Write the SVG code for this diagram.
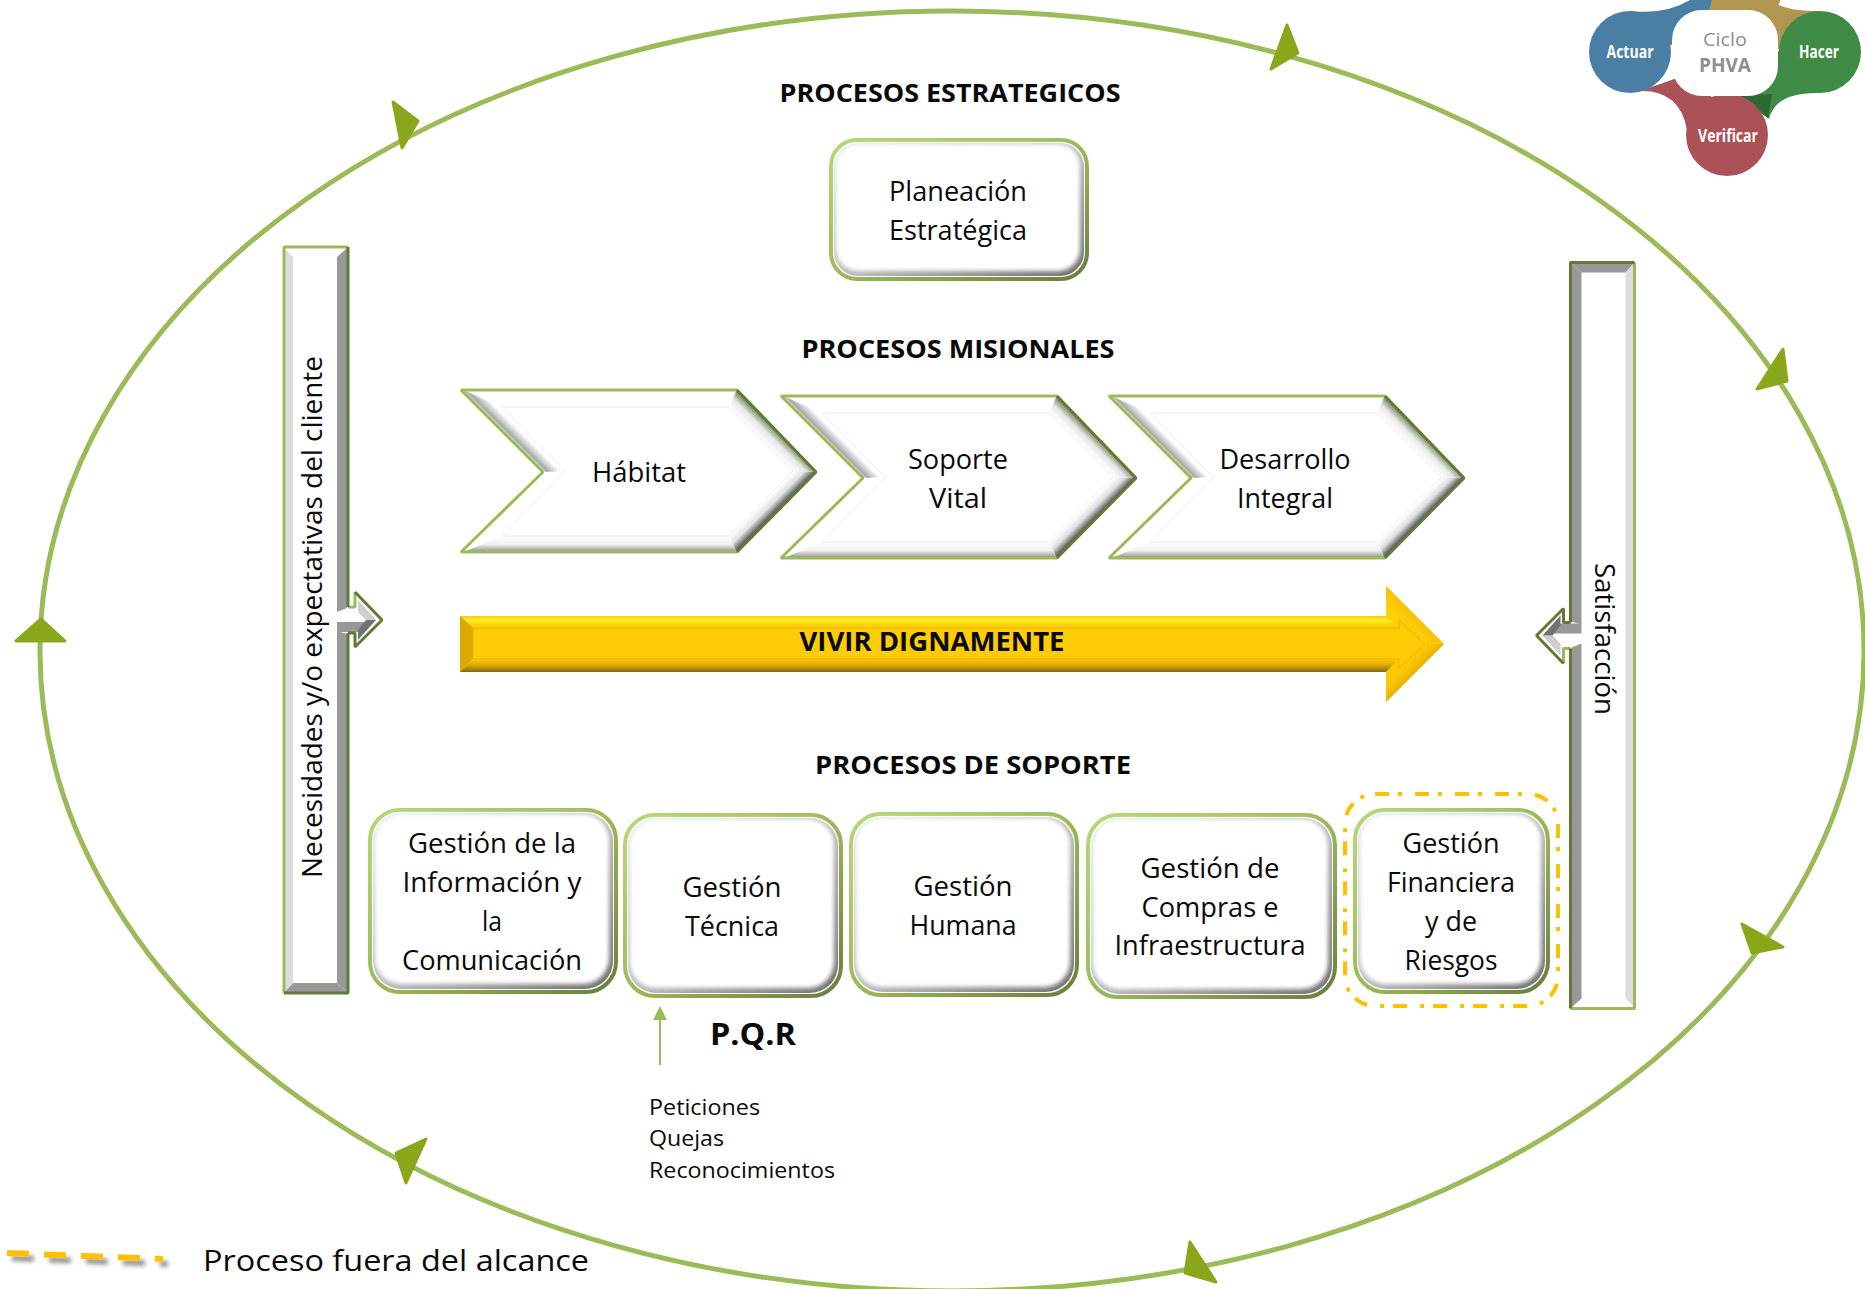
<svg xmlns="http://www.w3.org/2000/svg" xmlns:xlink="http://www.w3.org/1999/xlink" width="1865" height="1289" viewBox="0 0 1865 1289">
<style>
text{font-family:"Open Sans","Noto Sans","Liberation Sans",sans-serif;fill:#0a0a0a;font-size:27px;text-anchor:middle}
.h{font-weight:700;font-size:25px}
.p{font-size:22px;text-anchor:start}
.w{fill:#fff;font-weight:700;font-size:17px}
.box{stroke:url(#gBox);stroke-width:4;fill:#fff}
.bev{fill:url(#gBev)}
.face{fill:#fff;filter:url(#soft)}
.tri{fill:#8aa71c;stroke:#8aa71c;stroke-width:3;stroke-linejoin:round}
.lg{stroke:#9bbb59;stroke-width:3;fill:none;stroke-linejoin:bevel}
.dk{stroke:#627a38;stroke-width:3;fill:none;stroke-linejoin:bevel}
</style>
<defs>
<linearGradient id="gBox" x1="0" y1="0" x2="1" y2="1"><stop offset="0" stop-color="#b5d878"/><stop offset=".5" stop-color="#9bbb59"/><stop offset="1" stop-color="#67803c"/></linearGradient>
<linearGradient id="gBev" x1="0" y1="0" x2="1" y2="1"><stop offset="0" stop-color="#e8e8e8"/><stop offset=".5" stop-color="#bdbdbd"/><stop offset="1" stop-color="#6f6f6f"/></linearGradient>
<filter id="soft" x="-5%" y="-5%" width="110%" height="110%"><feGaussianBlur stdDeviation="2.2"/></filter>
<filter id="shadow" x="-10%" y="-300%" width="120%" height="800%"><feDropShadow dx="5" dy="5" stdDeviation="2.2" flood-color="#777" flood-opacity=".8"/></filter>
<linearGradient id="cRU" gradientUnits="userSpaceOnUse" x1="761" y1="439" x2="773.5" y2="426.5"><stop offset="0" stop-color="#fff"/><stop offset=".5" stop-color="#e8e8e8"/><stop offset="1" stop-color="#6b7a50"/></linearGradient>
<linearGradient id="cRD" gradientUnits="userSpaceOnUse" x1="761" y1="504" x2="773.5" y2="516.5"><stop offset="0" stop-color="#fff"/><stop offset=".45" stop-color="#e0e0e0"/><stop offset="1" stop-color="#333"/></linearGradient>
<linearGradient id="cB" gradientUnits="userSpaceOnUse" x1="0" y1="536" x2="0" y2="553"><stop offset="0" stop-color="#fff"/><stop offset=".5" stop-color="#f0f0f0"/><stop offset="1" stop-color="#808080"/></linearGradient>
<linearGradient id="cLU" gradientUnits="userSpaceOnUse" x1="500" y1="430" x2="512" y2="418"><stop offset="0" stop-color="#fff"/><stop offset=".25" stop-color="#a8a8a8"/><stop offset=".8" stop-color="#fff"/></linearGradient>
<linearGradient id="yT" x1="0" y1="0" x2="0" y2="1"><stop offset="0" stop-color="#ffc800"/><stop offset=".35" stop-color="#fff02a"/><stop offset=".7" stop-color="#ffd008"/></linearGradient>
<linearGradient id="yB" x1="0" y1="0" x2="0" y2="1"><stop offset="0" stop-color="#ffc805"/><stop offset=".45" stop-color="#e0ac05"/><stop offset="1" stop-color="#7f6a1a"/></linearGradient>
<linearGradient id="yU" x1="0" y1="1" x2="1" y2="0"><stop offset=".3" stop-color="#ffd00a"/><stop offset=".6" stop-color="#f2bd05"/><stop offset=".8" stop-color="#d7a306"/></linearGradient>
<linearGradient id="yD" x1="0" y1="0" x2="1" y2="1"><stop offset=".35" stop-color="#ffc805"/><stop offset=".6" stop-color="#d8a706"/><stop offset=".85" stop-color="#7f6a1a"/></linearGradient>
<g id="chev">
<polygon points="461,389 737,389 816,472 737,553 461,553 543,472" fill="#fff"/>
<polygon points="737,389 816,472 793,471 729,407" fill="url(#cRU)"/>
<polygon points="816,472 737,553 729,536 793,471" fill="url(#cRD)"/>
<polygon points="737,553 461,553 502,536 729,536" fill="url(#cB)"/>
<polygon points="543,472 461,389 502,407 565,471" fill="url(#cLU)"/>
<polygon points="502,407 729,407 793,471 729,536 502,536 565,471" fill="#fff" stroke="#ececec"/>
<path class="lg" d="M737,390H461L543,472L461,552H737"/>
<path class="dk" d="M737,390L816,472L737,552"/>
</g>
<g id="bar">
<path d="M284,247H348V607H355V592L382,620L355,647V633H348V993H284Z" fill="#fff"/>
<polygon points="285,249 293,257 293,983 285,992" fill="#dcdcdc"/>
<polygon points="285,992 293,983 337,983 347,992" fill="#989898"/>
<polygon points="347,248 337,257 337,612 347,608" fill="#989898"/>
<polygon points="347,634 337,631 337,983 347,992" fill="#989898"/>
<polygon points="337,622 366,622 358,632 337,632" fill="#989898"/>
<polygon points="358,600 376,620 366,620 358,612" fill="#cfcfcf"/>
<polygon points="376,620 358,640 358,630 366,620" fill="#727272"/>
<path class="lg" d="M348,247H284V993"/>
<path class="lg" d="M348,607H355V592"/>
<path class="dk" d="M348,247V607M348,633V993H284M355,592L382,620L355,647V633H348"/>
</g>
</defs>
<rect width="1865" height="1289" fill="#fff"/>

<g id="connectors">
<ellipse cx="952" cy="651" rx="912" ry="640" fill="none" stroke="#9bbb59" stroke-width="5"/>
<polygon class="tri" points="1287,25 1298,53 1271,69"/>
<polygon class="tri" points="393,102 418,121 402,148"/>
<polygon class="tri" points="1783,349 1787,381 1757,389"/>
<polygon class="tri" points="1742,924 1783,947 1752,953"/>
<polygon class="tri" points="1190,1242 1216,1282 1185,1273"/>
<polygon class="tri" points="396,1153 426,1139 406,1183"/>
<polygon class="tri" points="41,619 65,641 16,641"/>
<path d="M660,1065V1018" stroke="#9bbb59" stroke-width="2" fill="none"/>
<polygon points="653,1020 667,1020 660,1006" fill="#9bbb59"/>
</g>

<g id="phva">
<circle cx="1737" cy="-15" r="46" fill="#b09650"/>
<path d="M1770,0Q1785,12 1820,11L1780,50L1720,20Z" fill="#b09650"/>
<path d="M1630,11Q1665,15 1690,0H1712L1700,40L1640,50Z" fill="#4a7fa3"/>
<path d="M1640,91Q1680,90 1687,130L1727,135L1700,70Z" fill="#aa5257"/>
<path d="M1769,119Q1775,92 1820,93L1780,50L1730,90Z" fill="#3f8a44"/>
<polygon points="1740,96 1772,94 1768,118" fill="#2b6a33"/>
<circle cx="1630" cy="52" r="41" fill="#4a7fa3"/>
<circle cx="1820" cy="52" r="41" fill="#3f8a44"/>
<circle cx="1727" cy="135" r="41" fill="#aa5257"/>
<rect x="1672" y="10" width="106" height="86" rx="30" fill="#fff"/>
<text x="1725" y="46" textLength="44" lengthAdjust="spacingAndGlyphs" style="fill:#8e8e8e;font-size:19px">Ciclo</text>
<text x="1725" y="72" textLength="52" lengthAdjust="spacingAndGlyphs" style="fill:#8e8e8e;font-size:20px;font-weight:700">PHVA</text>
<text class="w" x="1630" y="58" textLength="47" lengthAdjust="spacingAndGlyphs">Actuar</text>
<text class="w" x="1819" y="58" textLength="40" lengthAdjust="spacingAndGlyphs">Hacer</text>
<text class="w" x="1728" y="142" textLength="60" lengthAdjust="spacingAndGlyphs">Verificar</text>
</g>

<text class="h" x="950" y="102" textLength="341" lengthAdjust="spacingAndGlyphs">PROCESOS ESTRATEGICOS</text>
<text class="h" x="958" y="358" textLength="313" lengthAdjust="spacingAndGlyphs">PROCESOS MISIONALES</text>
<text class="h" x="973" y="774" textLength="316" lengthAdjust="spacingAndGlyphs">PROCESOS DE SOPORTE</text>

<g id="planeacion">
<rect class="box" x="831" y="140" width="256" height="139" rx="26"/>
<rect class="bev" x="834" y="143" width="250" height="133" rx="24"/>
<rect class="face" x="836" y="144" width="244" height="127" rx="22"/>
<text x="958" y="201" textLength="138" lengthAdjust="spacingAndGlyphs">Planeación</text>
<text x="958" y="240" textLength="138" lengthAdjust="spacingAndGlyphs">Estratégica</text>
</g>

<g id="habitat"><use xlink:href="#chev" href="#chev"/>
<text x="639" y="482" textLength="94" lengthAdjust="spacingAndGlyphs">Hábitat</text></g>
<g id="soporte-vital"><use xlink:href="#chev" href="#chev" transform="translate(320,6)"/>
<text x="958" y="469" textLength="100" lengthAdjust="spacingAndGlyphs">Soporte</text>
<text x="958" y="508" textLength="58" lengthAdjust="spacingAndGlyphs">Vital</text></g>
<g id="desarrollo-integral"><use xlink:href="#chev" href="#chev" transform="translate(648,6)"/>
<text x="1285" y="469" textLength="131" lengthAdjust="spacingAndGlyphs">Desarrollo</text>
<text x="1285" y="508" textLength="96" lengthAdjust="spacingAndGlyphs">Integral</text></g>

<g id="vivir-dignamente">
<polygon points="460,616 1386,616 1386,586 1444,644 1386,702 1386,672 460,672" fill="#ffcc05"/>
<polygon points="460,616 1386,616 1399,628 473,628" fill="url(#yT)"/>
<polygon points="460,616 473,628 473,659 460,672" fill="#dfa800"/>
<polygon points="473,659 1399,659 1386,672 460,672" fill="url(#yB)"/>
<polygon points="1386,616 1386,586 1444,644 1425,644 1399,620 1399,628" fill="url(#yU)"/>
<polygon points="1444,644 1386,702 1386,672 1399,659 1399,668 1425,644" fill="url(#yD)"/>
<polygon points="473,628 1399,628 1399,620 1425,644 1399,668 1399,659 473,659" fill="#ffcc05" stroke="#e6b400"/>
<text x="932" y="651" textLength="265" lengthAdjust="spacingAndGlyphs" style="font-weight:700;font-size:26px">VIVIR DIGNAMENTE</text>
</g>

<g id="necesidades"><use xlink:href="#bar" href="#bar"/>
<text transform="translate(322,617) rotate(-90)" textLength="522" lengthAdjust="spacingAndGlyphs">Necesidades y/o expectativas del cliente</text></g>
<g id="satisfaccion"><use xlink:href="#bar" href="#bar" transform="rotate(180 959.25 627.75)"/>
<text transform="translate(1595,639) rotate(90)" textLength="152" lengthAdjust="spacingAndGlyphs">Satisfacción</text></g>

<g id="gestion-informacion">
<rect class="box" x="370" y="810" width="246" height="182" rx="30"/>
<rect class="bev" x="373" y="813" width="240" height="176" rx="28"/>
<rect class="face" x="375" y="814" width="234" height="170" rx="26"/>
<text x="492" y="853" textLength="168" lengthAdjust="spacingAndGlyphs">Gestión de la</text>
<text x="492" y="892" textLength="179" lengthAdjust="spacingAndGlyphs">Información y</text>
<text x="492" y="931" textLength="20" lengthAdjust="spacingAndGlyphs">la</text>
<text x="492" y="970" textLength="180" lengthAdjust="spacingAndGlyphs">Comunicación</text>
</g>
<g id="gestion-tecnica">
<rect class="box" x="625" y="815" width="216" height="181" rx="30"/>
<rect class="bev" x="628" y="818" width="210" height="175" rx="28"/>
<rect class="face" x="630" y="819" width="204" height="169" rx="26"/>
<text x="732" y="897" textLength="99" lengthAdjust="spacingAndGlyphs">Gestión</text>
<text x="732" y="936" textLength="94" lengthAdjust="spacingAndGlyphs">Técnica</text>
</g>
<g id="gestion-humana">
<rect class="box" x="851" y="814" width="226" height="181" rx="30"/>
<rect class="bev" x="854" y="817" width="220" height="175" rx="28"/>
<rect class="face" x="856" y="818" width="214" height="169" rx="26"/>
<text x="963" y="896" textLength="99" lengthAdjust="spacingAndGlyphs">Gestión</text>
<text x="963" y="935" textLength="107" lengthAdjust="spacingAndGlyphs">Humana</text>
</g>
<g id="gestion-compras">
<rect class="box" x="1088" y="815" width="247" height="182" rx="30"/>
<rect class="bev" x="1091" y="818" width="241" height="176" rx="28"/>
<rect class="face" x="1093" y="819" width="235" height="170" rx="26"/>
<text x="1210" y="878" textLength="139" lengthAdjust="spacingAndGlyphs">Gestión de</text>
<text x="1210" y="917" textLength="137" lengthAdjust="spacingAndGlyphs">Compras e</text>
<text x="1210" y="955" textLength="191" lengthAdjust="spacingAndGlyphs">Infraestructura</text>
</g>
<g id="gestion-financiera">
<rect x="1345" y="794" width="213" height="212" rx="30" fill="none" stroke="#ffc000" stroke-width="4" stroke-dasharray="14 9 4 13"/>
<rect class="box" x="1355" y="810" width="193" height="182" rx="30"/>
<rect class="bev" x="1358" y="813" width="187" height="176" rx="28"/>
<rect class="face" x="1360" y="814" width="181" height="170" rx="26"/>
<text x="1451" y="853" textLength="97" lengthAdjust="spacingAndGlyphs">Gestión</text>
<text x="1451" y="892" textLength="128" lengthAdjust="spacingAndGlyphs">Financiera</text>
<text x="1451" y="931" textLength="52" lengthAdjust="spacingAndGlyphs">y de</text>
<text x="1451" y="970" textLength="93" lengthAdjust="spacingAndGlyphs">Riesgos</text>
</g>

<text x="753" y="1045" textLength="86" lengthAdjust="spacingAndGlyphs" style="font-weight:700;font-size:31px">P.Q.R</text>
<text class="p" x="649" y="1115" textLength="111" lengthAdjust="spacingAndGlyphs">Peticiones</text>
<text class="p" x="649" y="1146" textLength="75" lengthAdjust="spacingAndGlyphs">Quejas</text>
<text class="p" x="649" y="1178" textLength="186" lengthAdjust="spacingAndGlyphs">Reconocimientos</text>

<g id="leyenda">
<path d="M7,1253L163,1259" stroke="#ffc000" stroke-width="6" fill="none" stroke-dasharray="22 15" filter="url(#shadow)"/>
<text x="203" y="1271" textLength="386" lengthAdjust="spacingAndGlyphs" style="text-anchor:start;font-size:30px">Proceso fuera del alcance</text>
</g>
</svg>
